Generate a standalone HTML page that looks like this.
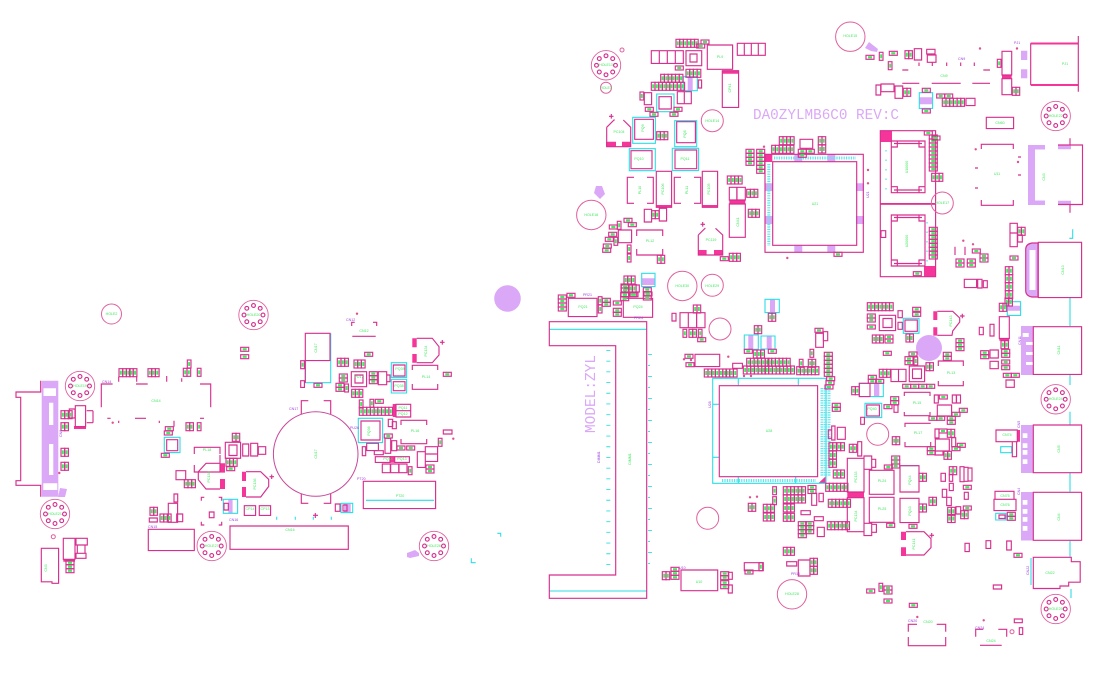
<!DOCTYPE html>
<html><head><meta charset="utf-8"><style>
html,body{margin:0;padding:0;background:#fff;width:1106px;height:684px;overflow:hidden}
svg{display:block}
text{font-family:"Liberation Sans",sans-serif}
.g{font-size:3.6px;fill:#3fe85c;text-anchor:middle}
.p{font-size:3.6px;fill:#9a3ee0}
</style></head><body>
<svg width="1106" height="684" viewBox="0 0 1106 684" xmlns="http://www.w3.org/2000/svg">
<defs>
<g id="v"><rect width="3.7" height="8" fill="none" stroke="#d62f8e" stroke-width="1.15"/><rect x=".9" y="2" width="1.9" height="4" fill="#45e862"/></g>
<g id="h"><rect width="8" height="4" fill="none" stroke="#d62f8e" stroke-width="1.15"/><rect x="2" y=".9" width="4" height="2.2" fill="#45e862"/></g>
<g id="V2"><use href="#v"/><use href="#v" x="3.7"/></g>
<g id="V3"><use href="#V2"/><use href="#v" x="7.4"/></g>
<g id="V4"><use href="#V2"/><use href="#V2" x="7.4"/></g>
<g id="V6"><use href="#V4"/><use href="#V2" x="14.8"/></g>
<g id="H2"><use href="#h"/><use href="#h" y="4"/></g>
<g id="H3"><use href="#H2"/><use href="#h" y="8"/></g>
<g id="H4"><use href="#H2"/><use href="#H2" y="8"/></g>
<g id="H6"><use href="#H4"/><use href="#H2" y="16"/></g>
<g id="H" fill="none" stroke="#d62f8e" stroke-width="1.15"><circle r="14.7" stroke="#e0609f" stroke-width=".9"/><circle cx="-9.5" r="1.9"/><circle cx="9.5" r="1.9"/><circle cy="-9.5" r="1.9"/><circle cy="9.5" r="1.9"/><circle cx="-6.7" cy="-6.7" r="1.9"/><circle cx="6.7" cy="-6.7" r="1.9"/><circle cx="-6.7" cy="6.7" r="1.9"/><circle cx="6.7" cy="6.7" r="1.9"/></g>
</defs>

<g fill="#dba8f7">
<circle cx="507.5" cy="298.5" r="13.3"/><circle cx="929" cy="348" r="13"/>
<path d="M41.7 380.7h16.6v116h-16.6z"/>
<path d="M60 488l7 1-2 8h-7zM407 553l8-3 4 3v3l-9 2-3-1zM596 186h6l3 8-5 5-6-6zM865 48l4-6 9 7-1 3-6-1z"/>
<path d="M1021 50.7h6.3v9.3h-6.3zM1021 69.3h6.3v9h-6.3z"/>
<path d="M794.3 154.3h8v7.4h-8zM827.3 154.3h8v7.4h-8zM765 183.3h7.7v7.7H765zM765 216h7.7v8H765zM794.3 245.7h8v6.7h-8zM827.3 245.7h8v6.7h-8zM856 183.3h8v7.7h-8zM856 216h8v8h-8z"/>
<path d="M1028 145h17v4.5h-10v51h10v4.5h-17zM1058 145h13v4.3h-13zM1058 200.7h13v4.3h-13z"/>
<path d="M1032 243h6v54h-6q-6-1-6.3-6v-42q.3-5 6.300-6z"/>
<path d="M1021 326h12.3v49H1021zM1021 425h12.3v48H1021zM1021 492h12.3v48.5H1021z"/>
<path d="M687.7 76.7h5v14h-5zM770 299.3h5v13.3h-5zM748.3 335h5v14.3h-5zM766.7 336h5v13h-5zM228.3 499.3h4.3v14h-4.3zM344 504h6.7v8H344zM641.7 278.3H655V285h-13.3zM919.3 97.3h13.3v7h-13.3zM874 383.3h5.3v13.3H874zM1007.3 305.7h13.3v5h-13.3z"/>
</g>
<g fill="#fff">
<path d="M49 402.7h4.3V425H49zM49 444h4.3v31H49zM43.5 388.3H56V396H43.5zM43.3 483.3h14v6.7h-14z"/>
<path d="M1022.7 333h6v4h-6zM1026 342h7v3h-7zM1026 352h7v3h-7zM1026 362h7v3h-7zM1022.7 433.3h4.7V438h-4.7zM1022.7 443.3h4.7V448h-4.7zM1022.7 450h4.7v4.7h-4.7zM1022.7 459.3h4.7V464h-4.7zM1022.7 500h4.7v4.7h-4.7zM1022.7 509h4.7v4.7h-4.7zM1022.7 517h4.7v4.7h-4.7zM1022.7 526h4.7v4.7h-4.7z"/>
<path d="M1029.5 250h6v40h-6z"/>
</g>

<g fill="#f5359a">
<path d="M74 426h12v3H74zM220 463.3h5v9.3h-5zM220 479h5v10h-5zM242 471.7h4V481h-4zM242 487h4v10h-4zM63.3 559.3H75v2.5H63.3zM412.3 338.3h4.4v9h-4.4zM412.3 354h4.4v8.7h-4.4zM392.7 404h3.3v13h-3.3zM390 456h4.7v6.7H390z"/>
<path d="M606 141.700h10v5h-10zM622 141.700h8.700v5H622zM698.300 250h8.300v5h-8.300zM714 250h8.700v5H714zM722.300 70.700h16.300v3h-16.300zM656.300 205h15.300v2.300h-15.300zM702.300 205h15.300v2.300h-15.300zM729.300 200h16v4h-16zM764.300 154h8v8h-8zM880 130.700h12V142h-12zM880.300 203h55.300v1.700h-55.300zM924 266h11.700v10.700H924zM1002 75h9.700v3.700h-9.700zM818.300 483.300h7.700V476zM847.300 492H864v5.700h-16.700zM901 531.700h5v8.300h-5zM901 547.300h5v8.700h-5zM933.300 311.300h4V320h-4zM933.300 327.300h4v8.300h-4zM999.300 338.400h10v2.300h-10zM1017.300 430h2.700v11.700h-2.700zM1030.700 42.500h47.600v2h-47.600zM1030.700 84h47.600v2h-47.600z"/>
</g>

<g fill="none" stroke="#2fdde6" stroke-width="1.1">
<path d="M305.3 360v22.700h25.400V333.3M366 500.3h68M164.3 437.3H180v15.300h-15.700zM223.3 499.300h14.300v14h-14.300zM341 503.300h11.700v9.300H341zM391.300 362.700h15.300v14.700h-15.300zM391.300 379.300h15.300v13.700h-15.300zM358.300 418.300h24.300v24.300h-24.300zM497.300 533.300h3.400v3.400M471.300 558.300v4.400h4.400M276.700 516.700v3M295.300 516.700v3M313.300 516.700v3M331.300 516.700v3"/>
<path d="M683.300 76.700h14v14h-14zM656.700 94H674v17.700h-17.300zM632.700 117.300h22.700v26h-22.700zM674.700 120.700h22v26h-22zM629.300 148.700h26v22h-26zM672.300 148.300h26.300v22.300h-26.300zM641.700 273.300H655v13.300h-13.300zM919.300 92.700h13.300v15.700h-13.300zM765 299.300h14.300v13.300H765zM744.300 335h14v14.300h-14zM761 336h14v13h-14z"/>
<path d="M549.500 329.300h97M549.500 591h97M712.700 378.300H826v105H712.700zM738.300 378.300v7.400M798.300 378.300v7.400M712.700 404.300h6.600M712.700 457.300h6.600M738.300 476.700v6.600M795.700 476.700v6.600"/>
<path d="M903.300 318.300H919v15h-15.700zM859.300 383.300h24v13.300h-24zM865 403.300h16.700v14.300H865zM1007.300 301.700h13.300v13.700h-13.300zM1000.700 446.700h11v6h-11zM995.700 513.300H1006v6.700h-10.300zM1070 298v28M1070 375v10M1070 411.700V425M1070 472.700v19M1070 540.700v16M1071 589v9M1069.300 238.300h3.400v-9M1031 558v27M900 465.700h19"/>
<path stroke-dasharray=".9 21.100" stroke-width="4" d="M650 354V572"/>
<path stroke-dasharray=".9 21.100" stroke-width="2" d="M649 365V572"/>
<path stroke-dasharray=".9 9.800" stroke-width="4" d="M608.300 350V570"/>
<path stroke-width="3" stroke-dasharray="1.2 1.200" stroke="#5fe6ee" d="M774 158H856M768.800 164V246M822 388V476M825.500 388V476M829 388V476M722 480.500H816"/>
<path stroke-width="1" stroke-dasharray="1.500 8" d="M886 150V190M927 222V265"/>
</g>

<path fill="none" stroke="#d62f8e" stroke-width="1.15" d="
M40.700 380.700V392H16v5.300h4.700v83.400H16v4.600h24.700v11.400
M101.300 407.300V384h11.300M136 384h11.700M200 384h10.700v23.300M107.300 418.300h3.300M135 418.300h11M200 418.300h4M118.700 376.700v5M136.700 376.700v5M166.700 376v5.700M181.700 378.300v3.400M118.700 420.700v2.300M159.300 420.700v2.300M174 420.700v6
M75.300 405.700h10.300v21H75.300zM69.300 409H75v9h-5.700zM86.700 410.700H93M86.700 422.700H93M93 410.700v12M166.700 439.700h11v11h-11z
M194.300 454v-6.700H220v6.700M220 455v17M194.300 465v7H220
M225.300 442.300h15.300v16h-15.300zM229 445h8v10.500h-8zM176 470.700h9.700v9H176z
M220 463.300h-14l-7.700 8.400v8l7.700 9.300h14M246 471.700h14.700l8 7.700v7l-8 10.600H246M269.500 476.700h4.500M271.700 474.500v4.500
M242.700 444h6v12h-6zM250.700 443.300h7v12.700h-7zM258.300 446.700h7.400v7.600h-7.400zM174 494h3.700v8H174zM168.300 503.300h9.300v19h-9.300zM176.700 514h6v7.700h-6zM149.300 518h8v4h-8z
M201.300 500.700v-3.400h3M218.700 497.300h3v3.400M201.300 521.700v3.300h3M218.700 525h3v-3.300M209.300 512h4.700v5.700h-4.700z
M224 503.300h4.300v6.700H224zM244.300 505.700h11.300v9.700h-11.300zM259.300 505.700h11.300v9.700h-11.300zM148.300 529.300h46v21.300h-46zM230 526h118.300v23.300H230z
M41.300 548.300h17.300v35H52v-1.500H41.300zM63.300 538.300H75v21H63.300zM76 538.300h11.300v6.700H76zM77.300 545H85v8.300h-7.700zM76 553.300h10v5H76z
M305.300 333.300H330v27.300h-24.700zM305.300 360.700v22M300.700 380.700h3.700v6.700h-3.700z
M301.300 414v-13.300h7M323.700 400.700h7V414M301.300 494v9.300h7M323.700 503.300h7V494
M351.700 326v-3.700h3M373 322.300h3.700v3.700M352.300 336.300h23.400
M416.700 338.300h15.600l6.700 8.400v8.300l-6.700 7.700h-15.600M440 342.300h4.600M442.300 340v4.600
M351.300 371.700h15.300v15h-15.300zM355 375h8v8h-8zM378.300 371.700h8.400v13h-8.400zM386.700 375h3.300v6.700h-3.300z
M393.300 365H405v11h-11.700zM393.300 381.700H405v9h-11.700zM412.300 370v-4.700h25.400v4.700M412.300 384v5.300h25.400V384
M396 404.300h14.700v6.400H396zM396 410.700h14.700v6.300H396zM361 421h19v19h-19zM388.300 419.300h4.400v7.300h-4.400zM392.300 421.700h4v7h-4z
M401 425v-4.700h25.700v4.700M401 439v4.700h25.700V439M443.300 430h8.700v4h-8.700zM385 438.300h5.700v15H385zM391.700 440.700h5v10h-5zM366.700 443.300h11.700v7.300h-11.700zM362.300 446.700h3.400v9h-3.400zM374.300 450.700h9v4h-9zM375.300 456.700H390v5.700h-14.700zM394.700 456.700h14.700v5.700h-14.700zM382.300 464h8v8.700h-8zM390.700 464h8v8.700h-8zM399 464h8v8.700h-8zM417.300 451.700h8v15.700h-8zM425.300 446.700h12.300v7.300h-12.300zM425.300 454h12.300v7.400h-12.300zM363.300 481.300h72.300v27.300h-72.300zM335.300 504H340v7.300h-4.700zM343 505h4v6h-4zM313 515.300h5M315.300 513v5
M651.300 50.700h8v12.700h-8zM659.300 50.700h8v12.700h-8zM667.300 50.700h8v12.700h-8zM675.300 50.700h8v12.700h-8zM686 50.700h15.700v15H686zM690 54h7v8h-7zM707.300 45h25.300v24.300h-25.300zM737.300 43.300h7v12h-7zM744.300 43.300h7v12h-7zM751.300 43.300h7v12h-7zM758.300 43.300h7v12h-7zM722.300 70.700h16.300v36.700h-16.300zM698.300 80h3.300v8h-3.300z
M644.300 92.700h7.300v12h-7.300zM659 96.700h12.300V109H659zM677.300 91.700h7v12h-7zM684.300 91.700h7v12h-7z
M606.700 127.300l7.300-7.300h.7M623.300 120l7.400 7.300v19.400h-24v-19.400M609 116.300h4.500M611.300 114v4.600
M634.700 119.300h18.700v20h-18.700zM676.700 121.700h18.700v21h-18.700zM631 150.700h21v18h-21zM675 150h21.700v18.700H675z
M634 177.300h-6.700v26h6.700M647 177.300h6.300v26H647M681 177.300h-6.700v26h6.700M694 177.300h6.700v26H694M656.300 171.300h15.300v36h-15.300zM702.300 171.300h15.300v36h-15.300z
M729.300 187.300h7.500V200h-7.500zM737 187.300h8.300V200H737zM729.300 204h16v33.300h-16z
M765 154.300h98.300v98H765zM772.700 161.700h84v83.600h-84zM800 139.300h12.700v9H800zM618.300 230h13.300v12.700h-13.300zM636.700 236v-6h26v6M636.700 249v6h26v-6M644.300 209.300h7.300V222h-7.300zM659.300 208.300h7.300V221h-7.300z
M698.300 235l6.700-6.700h.5M715.500 228.300l7.200 6.700v20h-24.400v-20M700.500 224.300h4.500M702.700 222v4.600
M621.300 285h18v7h-18zM880.300 130.700h55.300v73.300h-55.300zM880.300 204h55.300v72.700h-55.300zM891.300 141H925v51.700h-33.700zM894 143.500h28M894 190h28M891.300 141h6v6h-6zM919 141h6v6h-6zM891.300 186.700h6v6h-6zM919 186.700h6v6h-6zM891.300 215H925v51h-33.700zM894 217.500h28M894 263.500h28M891.300 215h6v6h-6zM919 215h6v6h-6zM891.300 260h6v6h-6zM919 260h6v6h-6zM881 230.700h4.700v6.700H881z
M902.300 83.300h17M931.700 83.300h29M972.300 83.300H990M902.300 70h6M983.300 70H990M919 62.500V66M932.300 62.500V66M946.700 62.500V66M960.700 62.500V66M974.300 62.500V66
M876 85h4.700v10H876zM881 84h13v7.700h-13zM895 86h7.700v12.300H895zM914.300 48.700h7.300V60h-7.300zM926.700 49.300h8.300V54h-8.300zM927.300 55h8.700v7.300h-8.700zM966 98.300h9v7.300h-9z
M1002 51.300h9.700V75H1002zM1002 78.700h9.700v16H1002zM1030.700 43.300V85M1078.300 36v55.700
M986.300 117.300h27.300v11.300h-27.300zM981.300 149v-4.700h32V149M981.300 200v5.300h32V200M975 168h3M975 188h3M1018 175h3M1018 157h3
M1058 145h24.500v59.500H1058M1070 138.300v7M1070 205v7.700M1010 223.300h7.300v9.700h-7.300zM1010 233h7.300v13.700h-7.300zM1017.700 235h4.600v7h-4.600zM1038.300 242.300h43.300v55.300h-43.300zM1032 243h6v54h-6q-6-1-6.300-6v-42q.3-5 6.300-6z
M955 246.700v8.300M965 246.700v8.300M964.300 279.300h12.300v8.300h-12.300zM977.700 279.300h4.300v8.700h-4.300zM983.300 280.700h4v7h-4z
M549.300 321.700h97.400v276.600h-97.400V575h66.400V345.700h-66.400z
M568.300 298.300H597v18.300h-28.700zM623.300 298.300h29.300v19h-29.300zM680 312.700h8.300v15H680zM688.300 312.700h8.300v15h-8.300zM696.700 312.700h8.300v15h-8.300zM672 313.300h4v7.700h-4zM695 354.300h24.700v12.300H695zM732.700 363.300h9.700v5h-9.700zM815.700 333.300h7.700v14h-7.700zM823.300 331.700h4.400v9h-4.400z
M719.300 385.700h98.300v91h-98.300zM837.300 427.300h8v12h-8zM828.300 430h3.400v8.300h-3.400zM831.700 426h3.300v14h-3.300zM811.700 493.300h5v12h-5zM819 493.300h4.300v8.400H819zM801 510.700h9.300v4H801zM814.300 516.700h9v4h-9zM817.300 527.300h7v9.300h-7zM786.700 561.700h10v4.300h-10zM798.300 560H810v16h-11.700zM744.300 562.700H759v8h-14.700zM759 562.700h4.300v8H759zM681 570h36.700v20.700H681zM728.300 572.300h4v7h-4zM728.300 585h4v8h-4z
M879.300 315.300h16.300v15.300h-16.300zM883 318.500h9v9h-9zM898 310.700h4.300v7H898zM898 322.300h4.300v7H898zM905 320h12.300v11.300H905zM894 405h4v7.300h-4z
M937.300 311.300h15.400l7 6.700v4l-7 9-.7 4.300h-14.700M960 316h4.600M962.300 313.700v4.600
M938.300 366v-5h25v5M938.300 381v4.700h25V381M909.300 366h15.300v15.700h-15.300zM912.500 369h9v9.500h-9zM891 369.300h15v12.300h-15zM898.500 369.300v12.300M859.300 383.300H870v13.300h-10.700zM904.300 396v-3.700H930V396M904.300 412v3.700H930V412M937.300 405h14.300v11h-14.300zM934.300 395h4v8h-4zM952.300 395h4v8h-4zM956.500 395h4v8h-4zM866.700 405h12.700v11h-12.700zM860.700 417.300h3.700v7h-3.700z
M905 427v-3.700h25.700M930.700 442v4.700H905V442M857.700 441.700h4V456h-4zM935 429h4v9h-4zM935.300 439h14v12h-14zM951.700 437.700h4v9h-4zM935 451h8v4h-8z
M847.300 458.300H864V492h-16.700zM847.300 497.700H864v34h-16.700zM864 456h7.700v13.300H864zM871.700 459.300h4v8h-4zM864 523.300h7.700v12.300H864zM871.700 524.300h4.700v8h-4.700zM869.300 470.300H894v24h-24.700zM869.300 497.300H894v25h-24.700zM900 465.700h19V492h-19zM900 498.300h19v24.300h-19zM906 531.700h18l7 7v9l-7 7.300h-18M929.500 535.300h4.500M931.700 533v4.600
M941 473.300h4.400v8H941zM949.300 474.300h3.400v7h-3.400zM960 466.700h4v15h-4zM964 467.300h4v14h-4zM968 468h4v13h-4zM949.300 483.300h4v7.300h-4zM942.300 489.300h4.400v8h-4.400zM946.700 497.300h4.600v8.300h-4.600zM964.300 492.300h4v7h-4zM956 506.700h4.700v7.300H956zM965 543.300h4.300v8.300H965zM986 540.700h4.700v7.700H986zM1006.700 541h4.600v9h-4.600z
M908.300 631.700v-7.400h8.700M936.700 624.300h9v7.400M908.300 637v8.700h37.400V637M975.700 636.700v-7.400h7.600M998.300 629.300h8.400v7.400M980 645.300h21.700M1014.300 619h8v3.700h-8zM1019.300 627.700h3.400v6.700h-3.400z
M979.300 327.300h4v7.400h-4zM990 324.300h4V336h-4zM999.300 316.700h10v21.700h-10zM990 350h8.300v8H990zM990 361.300h8.300v7.400H990zM1006 380h8.300v7.300H1006z
M1033.300 326.700h48.300v47.700h-48.300zM1033.300 425h48.300v47.700h-48.300zM1033.300 492.300h48.300v48h-48.300zM1033.300 557.300h38v4.400h8.900v20.500h-11.500v3.800h-8.700v2.500h-26.700z
M996 430h21.300v11.700H996zM1012.300 441.700h4.300v15h-4.300zM995 491.300h19v8h-19zM994 499.300h22v11.300h-22zM999 515h6v3.500h-6zM993.300 585h8.300v4h-8.300z"/>

<g fill="none" stroke="#e0609f" stroke-width="1">
<circle cx="111.500" cy="314" r="10"/><circle cx="606" cy="87.700" r="5.500"/><circle cx="622" cy="50" r="2"/><circle cx="53.300" cy="536.700" r="2"/>
<circle cx="315.700" cy="454" r="42.300" stroke="#c9479a"/>
<circle cx="712.300" cy="120.700" r="11"/><circle cx="591.300" cy="215" r="14.700"/><circle cx="682.300" cy="286" r="14.700"/><circle cx="712.300" cy="285.300" r="11"/>
<circle cx="850.300" cy="36.700" r="14.700"/><circle cx="942.300" cy="203" r="11"/><circle cx="720" cy="329" r="11"/><circle cx="707.700" cy="518.300" r="11"/><circle cx="792" cy="594.300" r="14.700"/><circle cx="877.700" cy="434.300" r="11"/><circle cx="1012" cy="631.700" r="2"/>
</g>
<use href="#H" x="253.500" y="315"/><use href="#H" x="80" y="386"/><use href="#H" x="55" y="514"/><use href="#H" x="211.700" y="546"/><use href="#H" x="434" y="546"/><use href="#H" x="606" y="65.300"/><use href="#H" x="1055.700" y="116"/><use href="#H" x="1055.700" y="399.300"/><use href="#H" x="1055.700" y="609"/>

<use href="#V3" x="61" y="410.700"/><use href="#V2" x="61" y="422.700"/><use href="#V2" x="61" y="448.300"/><use href="#V2" x="61" y="462.300"/>
<use href="#V3" x="119" y="368.700"/><use href="#V2" x="129.500" y="368.700"/><use href="#V3" x="148" y="368.700"/><use href="#v" x="187.300" y="360"/><use href="#V2" x="183.300" y="368.300"/><use href="#v" x="197.300" y="368.300"/>
<use href="#h" x="165.300" y="426.700"/><use href="#h" x="164.300" y="431"/><use href="#h" x="161.300" y="453.300"/><use href="#V2" x="186" y="422.700"/><use href="#v" x="197.300" y="422.700"/><use href="#V2" x="232.300" y="433.300"/><use href="#V3" x="226" y="458.300"/><use href="#h" x="226.700" y="466.700"/><use href="#V3" x="184.300" y="479.700"/><use href="#V2" x="150" y="507.300"/><use href="#V3" x="160" y="514"/><use href="#H3" x="66" y="560.700"/>
<use href="#h" x="240.700" y="347.300"/><use href="#h" x="240.700" y="354.700"/>
<use href="#v" x="300.700" y="360.700"/><use href="#h" x="314" y="383.300"/><use href="#h" x="364.700" y="352.300"/><use href="#V3" x="337.300" y="358.300"/><use href="#V3" x="354" y="360"/><use href="#H2" x="339.300" y="374"/><use href="#H2" x="336" y="383.300"/><use href="#v" x="344.700" y="384"/><use href="#H3" x="369.300" y="371.700"/><use href="#h" x="443.300" y="372.300"/><use href="#V3" x="351.700" y="389.300"/><use href="#v" x="359.300" y="400"/><use href="#v" x="370" y="399.300"/><use href="#h" x="375.300" y="399.300"/><use href="#V6" x="359.300" y="407.300"/><use href="#V3" x="381.500" y="407.300"/><use href="#h" x="384.300" y="434"/><use href="#h" x="397" y="446"/><use href="#h" x="406.700" y="446"/><use href="#v" x="438.300" y="438.300"/><use href="#v" x="408.300" y="466.700"/><use href="#H2" x="426" y="465"/>

<use href="#V6" x="676" y="39.300"/><use href="#h" x="701" y="40"/><use href="#h" x="696.700" y="44"/><use href="#h" x="675.300" y="66"/><use href="#V4" x="686" y="69.300"/><use href="#V6" x="660.700" y="74.300"/><use href="#V6" x="651.300" y="82.300"/><use href="#V3" x="673.500" y="82.300"/><use href="#v" x="640" y="92"/><use href="#h" x="645.300" y="107.300"/><use href="#h" x="650" y="112.300"/><use href="#h" x="674" y="107.300"/><use href="#h" x="670" y="112.300"/><use href="#V3" x="656.700" y="131.700"/>
<use href="#V4" x="727.300" y="176"/><use href="#V3" x="746.700" y="189.300"/><use href="#V3" x="748.300" y="209.300"/><use href="#H4" x="746" y="149.300"/><use href="#H6" x="756.700" y="149.300"/><use href="#V4" x="779.300" y="136.700"/><use href="#V6" x="771.700" y="145.300"/><use href="#H2" x="798.300" y="149.300"/><use href="#h" x="806.300" y="149.300"/><use href="#V2" x="818.300" y="136.700"/><use href="#V2" x="818.300" y="145"/>
<use href="#h" x="720.300" y="256.700"/><use href="#V3" x="729.300" y="253.300"/><use href="#V2" x="651.600" y="210.700"/><use href="#h" x="624" y="218.300"/><use href="#h" x="628.300" y="222.700"/><use href="#v" x="617.300" y="221.300"/><use href="#h" x="609.300" y="225"/><use href="#h" x="608.700" y="232.300"/><use href="#h" x="605.300" y="237.300"/><use href="#h" x="603.300" y="244"/><use href="#h" x="602.700" y="248.300"/><use href="#v" x="614" y="237.300"/><use href="#v" x="627.300" y="245"/><use href="#v" x="627.300" y="254"/><use href="#V2" x="657.300" y="255.300"/>
<use href="#V3" x="624" y="276"/><use href="#V3" x="625" y="284.500"/><use href="#H2" x="620.700" y="292.700"/><use href="#h" x="628.700" y="292.700"/><use href="#H2" x="643.300" y="287.700"/><use href="#h" x="643.300" y="296"/>
<use href="#h" x="866" y="55.300"/><use href="#v" x="879.300" y="52.300"/><use href="#h" x="889.300" y="51.300"/><use href="#v" x="888.300" y="61.700"/><use href="#V2" x="905" y="50.700"/><use href="#V2" x="903.300" y="88.300"/><use href="#h" x="922.300" y="88.300"/><use href="#h" x="922.300" y="109"/><use href="#h" x="936.700" y="94"/><use href="#h" x="944.700" y="94"/><use href="#V6" x="942.300" y="98.300"/><use href="#v" x="997.300" y="59.300"/><use href="#V2" x="1012.300" y="87.300"/>
<use href="#H6" x="929.300" y="135"/><use href="#H3" x="929.300" y="159"/><use href="#V3" x="931.700" y="173.300"/><use href="#H6" x="929.300" y="227.300"/><use href="#H2" x="929.300" y="251"/><use href="#h" x="924.300" y="131"/><use href="#h" x="932" y="136"/><use href="#h" x="834" y="252.300"/><use href="#h" x="913.300" y="271.700"/>
<use href="#V2" x="1017.700" y="227.300"/><use href="#h" x="1010" y="256"/><use href="#V2" x="1005.300" y="266.700"/><use href="#V2" x="1005.300" y="274.700"/><use href="#V2" x="1005.300" y="282.700"/><use href="#V2" x="1005.300" y="290.700"/><use href="#V2" x="1005" y="298"/><use href="#H2" x="956" y="259"/><use href="#H2" x="967.300" y="259"/><use href="#h" x="972.300" y="249"/><use href="#H2" x="980" y="254"/>

<use href="#H4" x="558.300" y="295"/><use href="#h" x="567" y="293.300"/><use href="#v" x="598.300" y="296.700"/><use href="#v" x="598.300" y="305"/><use href="#H2" x="602.300" y="298.300"/><use href="#h" x="613.300" y="301"/><use href="#H2" x="613.300" y="308.300"/><use href="#H2" x="621" y="284"/><use href="#h" x="621" y="292.700"/><use href="#h" x="630" y="292.700"/><use href="#h" x="644" y="292"/>
<use href="#V2" x="693.300" y="305"/><use href="#v" x="683" y="329.300"/><use href="#V2" x="689" y="329.300"/><use href="#v" x="698.300" y="329.300"/><use href="#h" x="697.700" y="337.700"/><use href="#h" x="685" y="354.300"/><use href="#h" x="686" y="362.700"/><use href="#V6" x="704.300" y="369"/><use href="#V3" x="726" y="369"/>
<use href="#V2" x="768.300" y="313.300"/><use href="#V2" x="754.300" y="325.700"/><use href="#h" x="744.300" y="349.300"/><use href="#h" x="768.300" y="349.300"/><use href="#V3" x="753.300" y="350"/><use href="#V6" x="746.700" y="358.300"/><use href="#V6" x="768" y="358.300"/><use href="#V6" x="743.300" y="366"/><use href="#V6" x="765" y="366"/><use href="#V2" x="787" y="366"/><use href="#v" x="799.300" y="359.300"/><use href="#V2" x="808.300" y="359.300"/><use href="#V6" x="796.700" y="366.700"/><use href="#v" x="810" y="349.300"/><use href="#h" x="815" y="328.300"/><use href="#H6" x="824.300" y="352.300"/><use href="#h" x="826.700" y="376.700"/><use href="#h" x="826" y="380.700"/><use href="#h" x="825" y="385"/><use href="#H2" x="832.300" y="403.300"/>
<use href="#V2" x="829" y="442.700"/><use href="#V2" x="829" y="451"/><use href="#V2" x="829" y="459.300"/><use href="#V2" x="837" y="442.700"/><use href="#V3" x="833.300" y="470"/><use href="#V6" x="825.700" y="483.300"/><use href="#V6" x="828.300" y="499.300"/><use href="#V6" x="827.300" y="521.700"/><use href="#v" x="772.700" y="486.700"/><use href="#v" x="772.700" y="496.700"/><use href="#V6" x="783.300" y="486.700"/><use href="#V6" x="783.300" y="495"/><use href="#V3" x="783.300" y="504"/><use href="#V3" x="783.300" y="513.300"/><use href="#H2" x="808" y="485.500"/><use href="#H4" x="798.300" y="521.700"/><use href="#H3" x="805.700" y="521.700"/><use href="#V3" x="763.300" y="504.300"/><use href="#V3" x="763.300" y="513"/><use href="#V2" x="748.300" y="503.300"/><use href="#V3" x="783.300" y="547.300"/><use href="#v" x="759" y="562.700"/><use href="#h" x="745" y="570"/><use href="#V2" x="810" y="558.300"/><use href="#V2" x="810" y="566.300"/><use href="#V2" x="662.300" y="571.700"/><use href="#H3" x="671" y="567.300"/><use href="#H2" x="720.700" y="571.700"/><use href="#H2" x="720.700" y="580.700"/>
<use href="#V6" x="867.300" y="302.700"/><use href="#v" x="889.500" y="302.700"/><use href="#H2" x="867.300" y="314"/><use href="#h" x="867.300" y="325"/><use href="#h" x="912.700" y="307.300"/><use href="#h" x="912.700" y="312.300"/><use href="#V2" x="906" y="334"/><use href="#V3" x="872.300" y="335"/><use href="#H2" x="885" y="335"/><use href="#h" x="883.300" y="351.300"/><use href="#H3" x="956" y="338.700"/><use href="#H2" x="943.300" y="352.300"/><use href="#h" x="909" y="352"/><use href="#H2" x="905" y="356.700"/><use href="#v" x="914" y="357"/><use href="#V2" x="926" y="362.700"/><use href="#V3" x="879.300" y="369.300"/><use href="#H2" x="868.300" y="375.300"/><use href="#h" x="875.700" y="379.300"/><use href="#h" x="902.700" y="384.300"/><use href="#h" x="910.700" y="384.300"/><use href="#h" x="918.700" y="384.300"/><use href="#h" x="926.700" y="384.300"/><use href="#V2" x="851.700" y="386.700"/><use href="#H2" x="890.700" y="396.700"/><use href="#h" x="884" y="404.700"/><use href="#h" x="939.300" y="395"/><use href="#h" x="959.300" y="408.300"/><use href="#h" x="952" y="412.300"/><use href="#h" x="929" y="416.300"/><use href="#h" x="936.700" y="416.300"/><use href="#H2" x="947.300" y="416.300"/><use href="#V2" x="892.300" y="436.700"/><use href="#V2" x="849.300" y="444.300"/><use href="#h" x="939" y="429"/><use href="#V2" x="947.300" y="429.300"/><use href="#h" x="957.300" y="443.300"/><use href="#h" x="952" y="446.700"/><use href="#H2" x="927.300" y="446.700"/><use href="#V2" x="944" y="451.300"/><use href="#h" x="884.300" y="465"/><use href="#H3" x="891.700" y="456"/><use href="#h" x="886.700" y="523.300"/><use href="#V2" x="919" y="473.300"/><use href="#V2" x="919" y="504"/><use href="#V2" x="929" y="497.300"/><use href="#h" x="909" y="524.300"/><use href="#V2" x="949.300" y="466.700"/><use href="#h" x="963.300" y="485.300"/><use href="#V2" x="947.700" y="507.300"/><use href="#V2" x="947.700" y="514.500"/><use href="#V2" x="960.700" y="510.700"/><use href="#h" x="963.300" y="506"/><use href="#h" x="1014" y="553.300"/><use href="#h" x="866.700" y="589"/><use href="#v" x="879" y="583.300"/><use href="#H2" x="884" y="586"/><use href="#h" x="884" y="599"/><use href="#h" x="909.300" y="603.300"/>
<use href="#V2" x="999.300" y="303.300"/><use href="#V2" x="1001" y="340.700"/><use href="#H2" x="980.700" y="350.700"/><use href="#H2" x="1001.700" y="349.300"/><use href="#h" x="1001.700" y="360"/><use href="#h" x="1001.700" y="365.700"/><use href="#h" x="1003.300" y="373.300"/><use href="#h" x="1011.300" y="373.300"/><use href="#H2" x="1007.300" y="512.300"/>

<g fill="#e0508f"><circle cx="112.700" cy="422.700" r="1.200"/><circle cx="59.300" cy="473" r="1.200"/><circle cx="357" cy="313.700" r="1.200"/><circle cx="453.300" cy="438.700" r="1.200"/><circle cx="764" cy="146.700" r="1.200"/><circle cx="787.300" cy="258" r="1.200"/><circle cx="868" cy="170" r="1.200"/><circle cx="868" cy="183.300" r="1.200"/><circle cx="975.700" cy="149.300" r="1.200"/><circle cx="1018" cy="162" r="1.200"/><circle cx="963.300" cy="240.700" r="1.200"/><circle cx="973" cy="244.300" r="1.200"/><circle cx="980" cy="48.500" r="1.200"/><circle cx="1017" cy="48.500" r="1.200"/><circle cx="684" cy="359.300" r="1.200"/><circle cx="691" cy="360" r="1.200"/><circle cx="728.300" cy="356.700" r="1.200"/><circle cx="744" cy="376" r="1.200"/><circle cx="751" cy="376" r="1.200"/><circle cx="750" cy="497.300" r="1.200"/><circle cx="757" cy="496.700" r="1.200"/><circle cx="917.300" cy="617" r="1.200"/><circle cx="983.700" cy="620.300" r="1.200"/></g>

<text x="753" y="119" font-size="15" textLength="146" lengthAdjust="spacingAndGlyphs" fill="#dba8f7" style="font-family:'Liberation Mono',monospace">DA0ZYLMB6C0 REV:C</text>
<text transform="translate(595 433) rotate(-90)" font-size="15" textLength="78" lengthAdjust="spacingAndGlyphs" fill="#dba8f7" style="font-family:'Liberation Mono',monospace">MODEL:ZYL</text>

<g>
<text class="g" x="111.500" y="315">HOLE2</text><text class="g" x="253.500" y="316">HOLE20</text><text class="g" x="80" y="387">HOLE19</text><text class="g" x="55" y="515">HOLE21</text><text class="g" x="211.700" y="547">HOLE27</text><text class="g" x="434" y="547">HOLE26</text><text class="g" x="606" y="66">HOLE13</text><text class="g" x="606" y="89">HOLE3</text><text class="g" x="712.300" y="122">HOLE14</text><text class="g" x="591.300" y="216">HOLE18</text><text class="g" x="682.300" y="287">HOLE30</text><text class="g" x="712.300" y="287">HOLE29</text><text class="g" x="850.300" y="37">HOLE15</text><text class="g" x="1055.700" y="117">HOLE22</text><text class="g" x="942.300" y="204">HOLE17</text><text class="g" x="1055.700" y="400">HOLE24</text><text class="g" x="1055.700" y="610">HOLE25</text><text class="g" x="792" y="595">HOLE28</text>
<text class="g" x="156" y="402">CN14</text><text class="g" x="207" y="451">PL18</text><text class="g" x="250" y="510">CP14</text><text class="g" x="265" y="510">CP13</text><text class="g" x="290" y="531">CN16</text><text class="g" x="364" y="332">CN12</text><text class="g" x="400" y="370">PQ39</text><text class="g" x="399" y="387">PQ38</text><text class="g" x="426" y="378">PL14</text><text class="g" x="415" y="432">PL16</text><text class="g" x="400" y="497">PT20</text><text class="g" x="359" y="378">PU17</text><text class="g" x="403" y="409">PQ11</text><text class="g" x="403" y="415">PQ12</text><text class="g" x="388" y="460">PQ14</text><text class="g" x="402" y="460">PQ13</text>
<text class="g" x="720" y="58">PL9</text><text class="g" x="699" y="583">U10</text><text class="g" x="583" y="308">PQ21</text><text class="g" x="638" y="308">PQ24</text><text class="g" x="650" y="242">PL12</text><text class="g" x="711" y="241">PC119</text><text class="g" x="619" y="133">PC104</text><text class="g" x="639" y="160">PQ10</text><text class="g" x="685" y="160">PQ11</text><text class="g" x="815" y="205">U21</text><text class="g" x="944" y="77">CN9</text><text class="g" x="1000" y="124">CN60</text><text class="g" x="769" y="432">U28</text><text class="g" x="997" y="175">U11</text><text class="g" x="1065" y="65">PJ1</text><text class="g" x="882" y="482">PL24</text><text class="g" x="882" y="510">PL25</text><text class="g" x="917" y="404">PL15</text><text class="g" x="918" y="434">PL17</text><text class="g" x="951" y="374">PL13</text><text class="g" x="1050" y="574">CN22</text><text class="g" x="928" y="623">CN20</text><text class="g" x="991" y="642">CN24</text><text class="g" x="1007" y="436">CN74</text><text class="g" x="1005" y="497">CN75</text><text class="g" x="1005" y="506">CN76</text><text class="g" x="872" y="410">PQ40</text>
<text class="g" transform="translate(317 348) rotate(-90)">CN17</text><text class="g" transform="translate(317 454) rotate(-90)">CN17</text><text class="g" transform="translate(47 568) rotate(-90)">CN3</text><text class="g" transform="translate(731 88) rotate(-90)">CP41</text><text class="g" transform="translate(739 222) rotate(-90)">CN41</text><text class="g" transform="translate(908 167) rotate(-90)">U10000</text><text class="g" transform="translate(908 241) rotate(-90)">U20000</text><text class="g" transform="translate(664 189) rotate(-90)">PC106</text><text class="g" transform="translate(710 189) rotate(-90)">PC105</text><text class="g" transform="translate(641 190) rotate(-90)">PL10</text><text class="g" transform="translate(688 190) rotate(-90)">PL11</text><text class="g" transform="translate(644 128) rotate(-90)">PQ9</text><text class="g" transform="translate(686 134) rotate(-90)">PQ8</text><text class="g" transform="translate(1045 177) rotate(-90)">CN3</text><text class="g" transform="translate(1064 270) rotate(-90)">CN13</text><text class="g" transform="translate(1060 350) rotate(-90)">CN11</text><text class="g" transform="translate(1060 449) rotate(-90)">CN5</text><text class="g" transform="translate(1060 517) rotate(-90)">CN4</text><text class="g" transform="translate(857 477) rotate(-90)">PC133</text><text class="g" transform="translate(857 516) rotate(-90)">PC134</text><text class="g" transform="translate(911 480) rotate(-90)">PQ44</text><text class="g" transform="translate(911 511) rotate(-90)">PQ43</text><text class="g" transform="translate(915 544) rotate(-90)">PC141</text><text class="g" transform="translate(427 351) rotate(-90)">PC134</text><text class="g" transform="translate(210 477) rotate(-90)">PC135</text><text class="g" transform="translate(256 484) rotate(-90)">PC136</text><text class="g" transform="translate(370 431) rotate(-90)">PQ36</text><text class="g" transform="translate(952 321) rotate(-90)">PC143</text><text class="g" transform="translate(631 459) rotate(-90)">DIMM1</text>
<text class="p" x="102" y="383">CN14</text><text class="p" x="148" y="528">CN15</text><text class="p" x="346" y="321">CN12</text><text class="p" x="289" y="410">CN17</text><text class="p" x="350" y="429">PU26</text><text class="p" x="357" y="480">PT20</text><text class="p" x="229" y="521">CN16</text><text class="p" x="583" y="296">PR21</text><text class="p" x="634" y="319">PR24</text><text class="p" x="958" y="60">CN9</text><text class="p" x="1014" y="44">PJ1</text><text class="p" x="679" y="569">U10</text><text class="p" x="791" y="575">PR13</text><text class="p" x="908" y="622">CN20</text><text class="p" x="975" y="629">CN24</text>
<text class="p" transform="translate(711 408) rotate(-90)">U28</text><text class="p" transform="translate(600 463) rotate(-90)">DIMM1</text><text class="p" transform="translate(62 437) rotate(-90)">CN9</text><text class="p" transform="translate(1021 345) rotate(-90)">CN11</text><text class="p" transform="translate(1020 428) rotate(-90)">CN5</text><text class="p" transform="translate(1020 495) rotate(-90)">CN4</text><text class="p" transform="translate(1029 575) rotate(-90)">CN22</text><text class="p" transform="translate(869 198) rotate(-90)">U21</text>
</g>
</svg>
</body></html>
